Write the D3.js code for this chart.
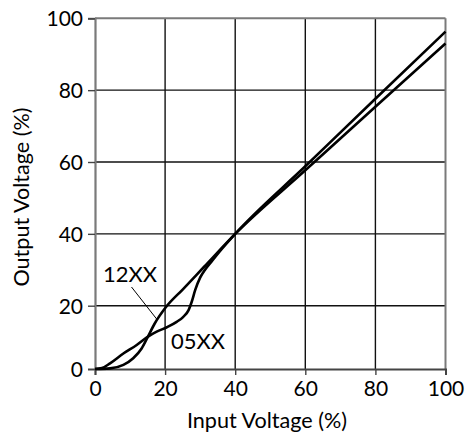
<!DOCTYPE html>
<html>
<head>
<meta charset="utf-8">
<script src="https://cdn.jsdelivr.net/npm/d3@7"></script>
<style>
  html, body { margin: 0; padding: 0; background: #fff; }
  svg { display: block; }
  text { font-family: "Lato", "DejaVu Sans", sans-serif; fill: #000; }
</style>
</head>
<body>
<svg id="chart" width="468" height="441"></svg>
<script>
// ---- data ----
const xTicks = [0, 20, 40, 60, 80, 100];
const yTicks = [0, 20, 40, 60, 80, 100];

const series12X = [0, 4.3, 8.1, 10.9, 13.3, 15, 17, 20.2, 25, 31, 40, 60, 80, 100];
const series12Y = [0, 0.2, 1.3, 3.4, 6.5, 10, 14.3, 19.5, 24.5, 30.7, 40, 57.7, 75.4, 93.0];

const series05X = [0, 2, 4.3, 8.1, 11.9, 14.8, 17.6, 20.5, 23.3, 25.2, 26.7, 27.6, 28.6, 30, 31.4, 33.5, 36, 40, 60, 80, 100];
const series05Y = [0, 0.3, 1.8, 4.9, 7.6, 10, 11.8, 13.2, 14.9, 16.5, 18.6, 21.1, 24.4, 27.8, 30.0, 32.6, 35.6, 40, 58.8, 77.6, 96.3];

const seriesLabels = ["12XX", "05XX"];
const xTitle = "Input Voltage (%)";
const yTitle = "Output Voltage (%)";

// ---- scales ----
const svg = d3.select("#chart");
const x = d3.scaleLinear().domain([0, 100]).range([95, 445.5]);
const y = d3.scaleLinear().domain([0, 20, 100]).range([369, 305.7, 18.3]);

// grid
const grid = svg.append("g");
grid.selectAll("line.v").data(xTicks.slice(1, -1)).join("line")
  .attr("x1", d => x(d)).attr("x2", d => x(d))
  .attr("y1", y(100)).attr("y2", y(0))
  .attr("stroke", "#111").attr("stroke-width", 1.4);
grid.selectAll("line.h").data(yTicks.slice(1, -1)).join("line")
  .attr("x1", x(0)).attr("x2", x(100))
  .attr("y1", d => y(d)).attr("y2", d => y(d))
  .attr("stroke", "#111").attr("stroke-width", 1.4);

// frame top & right
svg.append("line").attr("x1", x(0)).attr("x2", x(100)).attr("y1", y(100)).attr("y2", y(100))
  .attr("stroke", "#7a7a7a").attr("stroke-width", 2);
svg.append("line").attr("x1", x(100)).attr("x2", x(100)).attr("y1", y(100)).attr("y2", y(0))
  .attr("stroke", "#7a7a7a").attr("stroke-width", 2);

// axes
const xAxis = svg.append("g").attr("transform", `translate(0,${y(0)})`)
  .call(d3.axisBottom(x).tickValues(xTicks).tickSize(6).tickPadding(6).tickFormat(d3.format("d")));
const yAxis = svg.append("g").attr("transform", `translate(${x(0)},0)`)
  .call(d3.axisLeft(y).tickValues(yTicks).tickSize(7).tickPadding(5).tickFormat(d3.format("d")));

xAxis.select(".domain").attr("stroke", "#444").attr("stroke-width", 2);
yAxis.select(".domain").attr("stroke", "#7a7a7a").attr("stroke-width", 2.2);
xAxis.selectAll(".tick line").attr("stroke", "#444").attr("stroke-width", 1.4);
yAxis.selectAll(".tick line").attr("stroke", "#444").attr("stroke-width", 1.4);
xAxis.selectAll(".tick text").attr("font-size", 21).attr("font-family", "DejaVu Sans").attr("fill", "#000").attr("dy", "0.72em");
yAxis.selectAll(".tick text").attr("font-size", 21).attr("font-family", "DejaVu Sans").attr("fill", "#000").attr("dy", "0.36em");

// lines
const line = d3.line().x(d => x(d[0])).y(d => y(d[1])).curve(d3.curveMonotoneX);
const d12 = series12X.map((v, i) => [v, series12Y[i]]);
const d05 = series05X.map((v, i) => [v, series05Y[i]]);
[d12, d05].forEach(d => {
  svg.append("path").datum(d).attr("d", line)
    .attr("fill", "none").attr("stroke", "#000").attr("stroke-width", 2.6)
    .attr("stroke-linejoin", "round");
});

// labels
svg.append("text").attr("x", 130).attr("y", 282).attr("text-anchor", "middle")
  .attr("font-size", 22).text(seriesLabels[0]);
svg.append("line").attr("x1", 131.5).attr("y1", 287).attr("x2", x(17.8)).attr("y2", y(15.5))
  .attr("stroke", "#000").attr("stroke-width", 1);
svg.append("text").attr("x", 198).attr("y", 349).attr("text-anchor", "middle")
  .attr("font-size", 22).text(seriesLabels[1]);

// titles
svg.append("text").attr("x", 267).attr("y", 428).attr("text-anchor", "middle")
  .attr("font-size", 21.6).text(xTitle);
svg.append("text").attr("transform", "translate(29,197) rotate(-90)").attr("text-anchor", "middle")
  .attr("font-size", 21.6).text(yTitle);
</script>
</body>
</html>
